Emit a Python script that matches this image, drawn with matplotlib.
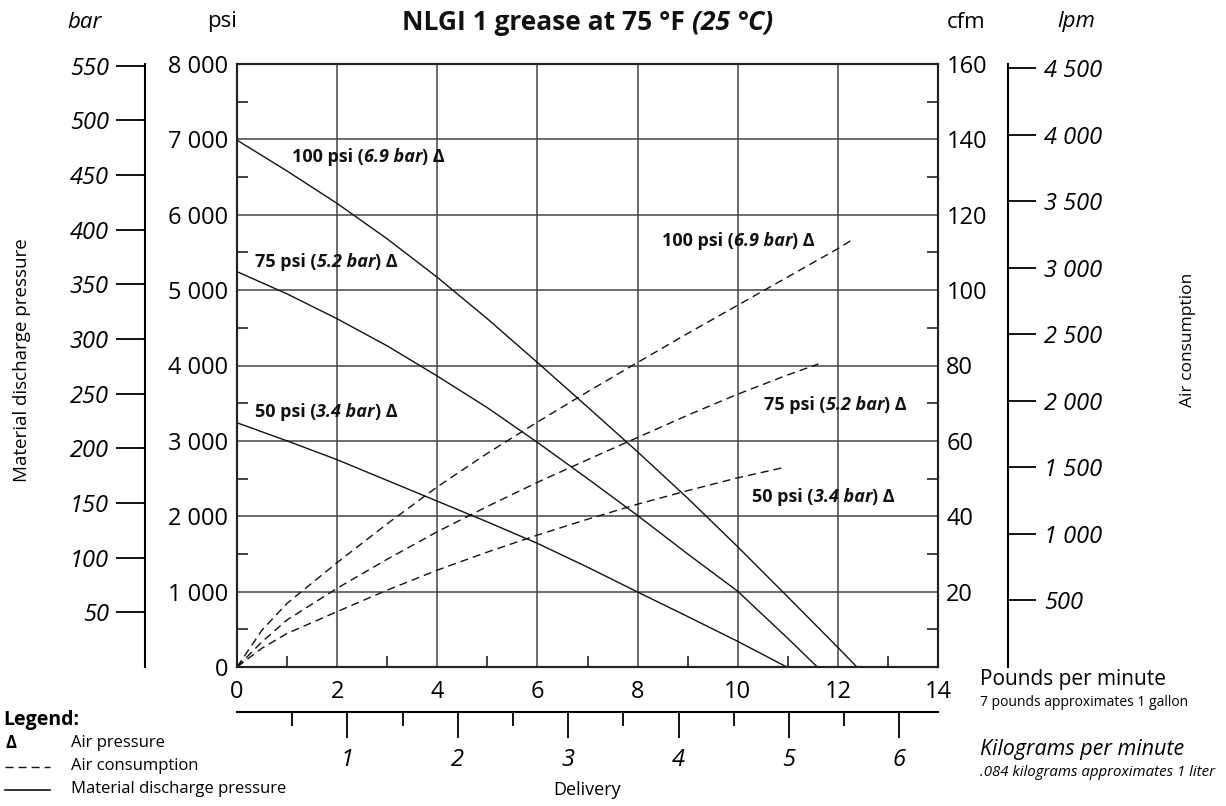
import matplotlib
matplotlib.use("Agg")
import matplotlib.pyplot as plt
from matplotlib.lines import Line2D
from matplotlib.offsetbox import TextArea, HPacker, AnnotationBbox

# Figure size in pixels (dpi 100)
W_PX = 1226
H_PX = 806
FONT = "Open Sans"
TICK_SIZE = 17
LINE_COLOR = "#111111"
GRID_COLOR = "#444444"

# Material discharge pressure (psi) vs delivery (lb/min), per air pressure
lb_100 = [0, 1, 2, 3, 4, 5, 6, 7, 8, 9, 10, 11, 12, 12.38]
psi_100 = [6990, 6580, 6150, 5680, 5170, 4620, 4040, 3450, 2855, 2240, 1595, 930, 260, 0]
lb_75 = [0, 1, 2, 3, 4, 5, 6, 7, 8, 9, 10, 11, 11.59]
psi_75 = [5245, 4950, 4620, 4260, 3860, 3440, 2980, 2500, 2010, 1500, 1005, 380, 0]
lb_50 = [0, 1, 2, 3, 4, 5, 6, 7, 8, 9, 10, 10.98]
psi_50 = [3240, 3000, 2750, 2475, 2200, 1925, 1640, 1325, 995, 670, 340, 0]

# Air consumption (cfm) vs delivery (lb/min)
air_lb_100 = [0, 0.5, 1, 2, 3, 4, 5, 6, 7, 8, 9, 10, 11, 12, 12.28]
cfm_100 = [0, 9.8, 16.9, 27.7, 38.0, 47.8, 56.7, 65.0, 73.0, 80.8, 88.5, 96.0, 103.5, 111.0, 113.3]
air_lb_75 = [0, 0.5, 1, 2, 3, 4, 5, 6, 7, 8, 9, 10, 11, 11.61]
cfm_75 = [0, 6.7, 12.5, 20.9, 28.6, 35.9, 42.6, 49.0, 55.0, 60.9, 66.8, 72.4, 77.5, 80.4]
air_lb_50 = [0, 0.5, 1, 2, 3, 4, 5, 6, 7, 8, 9, 10, 10.91]
cfm_50 = [0, 5.0, 8.9, 14.7, 20.4, 25.7, 30.5, 35.0, 39.2, 43.2, 46.8, 50.2, 52.9]

# Axis ticks
psi_ticks = [0, 1000, 2000, 3000, 4000, 5000, 6000, 7000, 8000]
cfm_ticks = [20, 40, 60, 80, 100, 120, 140, 160]
lb_ticks = [0, 2, 4, 6, 8, 10, 12, 14]
bar_ticks = [50, 100, 150, 200, 250, 300, 350, 400, 450, 500, 550]
lpm_ticks = [500, 1000, 1500, 2000, 2500, 3000, 3500, 4000, 4500]
kg_ticks = [1, 2, 3, 4, 5, 6]

# Curve labels: (text, bar text, x lb, y psi)
left_labels = [("100 psi (", "6.9 bar", 1.1, 6770),
               ("75 psi (", "5.2 bar", 0.36, 5375),
               ("50 psi (", "3.4 bar", 0.36, 3385)]
right_labels = [("100 psi (", "6.9 bar", 8.49, 5650),
                ("75 psi (", "5.2 bar", 10.53, 3475),
                ("50 psi (", "3.4 bar", 10.29, 2255)]

PSI_PER_BAR = 14.5038
LPM_PER_CFM = 28.3168
KG_PER_LB = 0.45359237


def fx(px):
    return px / W_PX


def fy(py):
    return 1 - py / H_PX


def spaced(v):
    return f"{v:,}".replace(",", " ")


def rich_label(ax, x, y, parts, size, xycoords="data", align=(0, 0.5), sep=0):
    children = [TextArea(t, textprops=dict(fontsize=size, fontweight="bold",
                                           fontstyle=st, family=FONT, color=LINE_COLOR))
                for t, st in parts]
    box = HPacker(children=children, align="baseline", pad=0, sep=sep)
    ab = AnnotationBbox(box, (x, y), xycoords=xycoords, box_alignment=align,
                        frameon=False, pad=0, annotation_clip=False)
    ax.add_artist(ab)


plt.rcParams['font.family'] = FONT
fig = plt.figure(figsize=(W_PX / 100, H_PX / 100), dpi=100)

# Main axes (psi / lb per minute)
ax = fig.add_axes([fx(237), fy(667), (938 - 237) / W_PX, (667 - 64) / H_PX])
ax.set_xlim(0, 14)
ax.set_ylim(0, 8000)
ax.set_xticks(lb_ticks)
ax.set_xticks(range(1, 14, 2), minor=True)
ax.set_yticks(psi_ticks)
ax.set_yticklabels([spaced(v) for v in psi_ticks])
ax.set_yticks(range(500, 8000, 1000), minor=True)
ax.tick_params(axis='both', which='major', length=0, labelsize=TICK_SIZE)
ax.tick_params(axis='x', which='major', pad=9)
ax.tick_params(axis='y', which='major', pad=6.5)
ax.tick_params(which='minor', direction='in', length=8, width=1.1, color=LINE_COLOR)
ax.grid(True, which='major', color=GRID_COLOR, lw=1.1)
ax.set_axisbelow(True)
for s in ax.spines.values():
    s.set_linewidth(1.5)
    s.set_color("#222222")

ax.plot(lb_100, psi_100, color=LINE_COLOR, lw=1.0)
ax.plot(lb_75, psi_75, color=LINE_COLOR, lw=1.0)
ax.plot(lb_50, psi_50, color=LINE_COLOR, lw=1.0)

# Right axis (cfm)
ax2 = ax.twinx()
ax2.set_ylim(0, 160)
ax2.set_yticks(cfm_ticks)
ax2.set_yticks(range(10, 160, 20), minor=True)
ax2.tick_params(axis='y', which='major', length=0, labelsize=TICK_SIZE, pad=6)
ax2.tick_params(axis='y', which='minor', direction='in', length=8, width=1.1, color=LINE_COLOR)
for s in ax2.spines.values():
    s.set_linewidth(1.5)
    s.set_color("#222222")

dash = (0, (5.8, 3.6))
ax2.plot(air_lb_100, cfm_100, color=LINE_COLOR, lw=1.0, linestyle=dash)
ax2.plot(air_lb_75, cfm_75, color=LINE_COLOR, lw=1.0, linestyle=dash)
ax2.plot(air_lb_50, cfm_50, color=LINE_COLOR, lw=1.0, linestyle=dash)

for txt, bar_txt, x, y in left_labels + right_labels:
    rich_label(ax, x, y, [(txt, "normal"), (bar_txt, "italic"), (") \u0394", "normal")], 13)

# bar axis on the far left
axb = fig.add_axes([fx(145), fy(667), 0.0005, (667 - 64) / H_PX])
axb.patch.set_visible(False)
for k in ["top", "right", "bottom"]:
    axb.spines[k].set_visible(False)
axb.spines["left"].set_linewidth(1.5)
axb.set_ylim(0, 8000 / PSI_PER_BAR)
axb.set_xticks([])
axb.set_yticks(bar_ticks)
axb.set_yticklabels([str(v) for v in bar_ticks], fontstyle='italic')
axb.tick_params(axis='y', direction='out', length=21, width=1.3, labelsize=TICK_SIZE, pad=5)

# lpm axis on the far right
axl = fig.add_axes([fx(1008) - 0.0005, fy(667), 0.0005, (667 - 64) / H_PX])
axl.patch.set_visible(False)
for k in ["top", "left", "bottom"]:
    axl.spines[k].set_visible(False)
axl.spines["right"].set_linewidth(1.5)
axl.set_ylim(0, 160 * LPM_PER_CFM)
axl.set_xticks([])
axl.yaxis.tick_right()
axl.set_yticks(lpm_ticks)
axl.set_yticklabels([spaced(v) for v in lpm_ticks], fontstyle='italic')
axl.tick_params(axis='y', direction='out', length=20, width=1.3, labelsize=TICK_SIZE, pad=6)

# kg per minute axis under the main one
axk = fig.add_axes([fx(237), fy(712), (938 - 237) / W_PX, 0.0005])
axk.patch.set_visible(False)
for k in ["top", "left", "right"]:
    axk.spines[k].set_visible(False)
axk.spines["bottom"].set_linewidth(1.5)
axk.set_xlim(0, 14 * KG_PER_LB)
axk.set_yticks([])
axk.set_xticks(kg_ticks)
axk.set_xticklabels([str(v) for v in kg_ticks], fontstyle='italic')
axk.set_xticks([0.5, 1.5, 2.5, 3.5, 4.5, 5.5], minor=True)
axk.tick_params(axis='x', which='major', direction='out', length=19, width=1.3,
                labelsize=TICK_SIZE, pad=7)
axk.tick_params(axis='x', which='minor', direction='out', length=10, width=1.3)

# Headers and axis titles
fig.text(fx(85), fy(22), "bar", fontsize=16, fontstyle='italic', ha='center', va='center')
fig.text(fx(222), fy(22), "psi", fontsize=16, ha='center', va='center')
fig.text(fx(966), fy(22), "cfm", fontsize=16, ha='center', va='center')
fig.text(fx(1076), fy(22), "lpm", fontsize=16, fontstyle='italic', ha='center', va='center')
rich_label(fig, fx(588), fy(22), [("NLGI 1 grease at 75 \u00b0F", "normal"),
                                  ("(25 \u00b0C)", "italic")], 19,
           xycoords="figure fraction", align=(0.5, 0.5), sep=5)

fig.text(fx(22), fy(360), "Material discharge pressure", fontsize=13.5, rotation=90,
         ha='center', va='center')
fig.text(fx(1188), fy(340), "Air consumption", fontsize=12.5, rotation=90,
         ha='center', va='center')
fig.text(fx(980), fy(680), "Pounds per minute", fontsize=15, ha='left', va='center')
fig.text(fx(980), fy(702), "7 pounds approximates 1 gallon", fontsize=10, ha='left', va='center')
fig.text(fx(980), fy(750), "Kilograms per minute", fontsize=15.5, fontstyle='italic',
         ha='left', va='center')
fig.text(fx(980), fy(772), ".084 kilograms approximates 1 liter", fontsize=10.8,
         fontstyle='italic', ha='left', va='center')
fig.text(fx(587), fy(790), "Delivery", fontsize=13, ha='center', va='center')

# Legend
fig.text(fx(3), fy(720), "Legend:", fontsize=14, fontweight='bold', ha='left', va='center')
fig.text(fx(5), fy(743), "\u0394", fontsize=12, fontweight='bold', ha='left', va='center')
fig.text(fx(71), fy(743), "Air pressure", fontsize=12, ha='left', va='center')
fig.add_artist(Line2D([fx(5), fx(50)], [fy(767), fy(767)], transform=fig.transFigure,
                      color=LINE_COLOR, lw=1.0, linestyle=dash))
fig.text(fx(71), fy(766), "Air consumption", fontsize=12, ha='left', va='center')
fig.add_artist(Line2D([fx(5), fx(50)], [fy(790), fy(790)], transform=fig.transFigure,
                      color=LINE_COLOR, lw=1.2))
fig.text(fx(71), fy(789), "Material discharge pressure", fontsize=12, ha='left', va='center')

fig.savefig("out.png", dpi=100)
